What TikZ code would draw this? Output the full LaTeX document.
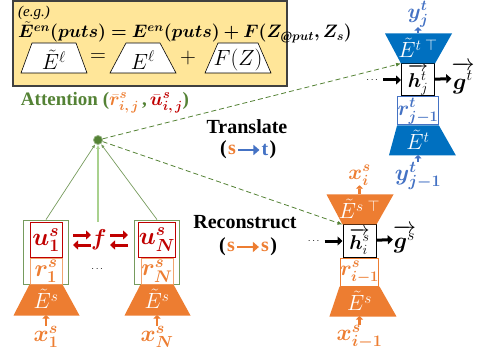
\RequirePackage{fix-cm}
\documentclass[tikz,border=0pt]{standalone}
\usepackage{fontspec}
\setmainfont{Liberation Serif}
\usepackage{amsmath,amssymb,bm}
\usetikzlibrary{
  arrows.meta,
  calc,
  positioning
}
\definecolor{sorange}{HTML}{ED7D31}
\definecolor{tblue}{HTML}{0070C0}
\definecolor{lblue}{HTML}{4472C4}
\definecolor{ured}{HTML}{C00000}
\definecolor{agreen}{HTML}{548235}
\definecolor{lgreen}{HTML}{A9D18E}
\definecolor{boxyellow}{HTML}{FFE699}
\newcommand{\egformula}{$\bm{\tilde{E}^{en}(puts) = E^{en}(puts) + F(Z_{\mathrm{@}put}, Z_s)}$}

\begin{document}
\begin{tikzpicture}[x=1pt,y=-1pt,>=Latex,
  lab/.style={inner sep=0pt,font=\fontsize{23}{27}\selectfont},
  bigtxt/.style={inner sep=0pt,font=\fontsize{20}{24}\selectfont\bfseries},
  ucell/.style={draw=ured,line width=1pt,fill=white,minimum width=32pt,minimum height=34pt,inner sep=0pt,text=ured,font=\fontsize{25}{28}\selectfont},
  rcell/.style={line width=1pt,fill=white,minimum width=32pt,inner sep=0pt,font=\fontsize{24}{26}\selectfont},
  hcell/.style={draw=black,line width=1pt,fill=white,minimum width=33pt,minimum height=32pt,inner sep=0pt,font=\fontsize{20}{24}\selectfont},
  grpbox/.style={draw=agreen!80,line width=0.8pt,minimum width=45pt,minimum height=64pt,inner sep=0pt},
  wtxt/.style={text=white,inner sep=0pt,font=\fontsize{22}{26}\selectfont},
  blkarrow/.style={line width=3pt,-{Triangle[length=5pt,width=9pt]}},
  uparrow/.style={line width=2.5pt,-{Triangle[length=3.5pt,width=7pt]}},
  redarrow/.style={ured,line width=3pt,-{Triangle[length=5pt,width=9pt]}},
  dirarrow/.style={line width=2.5pt,-{Triangle[length=6pt,width=10pt]}},
  attline/.style={agreen!80,line width=0.7pt,-{Latex[length=4pt,width=3pt]}},
  dasharrow/.style={agreen,dash pattern=on 5pt off 3pt,line width=0.8pt,-{Latex[length=5pt,width=4pt]}},
  trap/.style={draw=black,fill=white,line width=0.6pt}]
  \useasboundingbox (0,0) rectangle (478,352);

  % example box
  \draw[draw=black!75,fill=boxyellow,line width=1.5pt] (13,1) rectangle (287,86);
  \node[anchor=west,inner sep=0pt,font=\fontsize{15}{18}\selectfont\itshape] (eg) at (18,13) {(e.g.)};
  \node[anchor=west,inner sep=0pt,font=\fontsize{18}{21}\selectfont] (eqn) at (18,32) {\egformula};
  \foreach \tx/\tw/\nm/\txt in {54/22/tl/{$\tilde{E}^{\ell}$},143/17/tm/{$E^{\ell}$},238/20/tr/{$F(Z)$}}{
    \draw[trap] (\tx-\tw,43) -- (\tx+\tw,43) -- (\tx+33,73) -- (\tx-33,73) -- cycle;
    \node[font=\fontsize{22}{26}\selectfont,inner sep=0pt] (\nm) at (\tx,60) {\txt};
  }
  \node[font=\fontsize{22}{26}\selectfont,inner sep=0pt] (eq) at (98,58) {$=$};
  \node[font=\fontsize{22}{26}\selectfont,inner sep=0pt] (pl) at (188,58) {$+$};

  % attention
  \node[text=agreen,bigtxt,font=\fontsize{19}{23}\selectfont\bfseries] (attlbl) at (105,103) {Attention (\textcolor{sorange}{$\bm{\bar{r}^{s}_{i,\,j}}$}\,,\,\textcolor{ured}{$\bm{\bar{u}^{s}_{i,\,j}}$})};
  \node[circle,fill=agreen,draw=agreen!60,line width=0.8pt,minimum size=9pt,inner sep=0pt] (att) at (98,140) {};

  % source sentences
  \foreach \cx/\n in {46/1,157/N}{
    \node[grpbox] (grp\n) at (\cx,252) {};
    \node[ucell] (u\n) at (\cx,240) {$\bm{u^{s}_{\n}}$};
    \node[rcell,draw=sorange!70,text=sorange,minimum height=26pt,below=0pt of u\n] (r\n) {$\bm{r^{s}_{\n}}$};
    \fill[sorange] (r\n.south west) -- (r\n.south east) -- ++(17,31) -- ++(-66,0) -- cycle;
    \node[wtxt] (e\n) at (\cx,299) {$\tilde{E}^{s}$};
    \coordinate (bot\n) at (\cx,315);
    \node[lab,text=sorange] (x\n) at (\cx,337) {$\bm{x^{s}_{\n}}$};
    \draw[uparrow,sorange] (x\n) -- (bot\n);
    \draw[attline] (grp\n.north) -- (att);
  }
  \coordinate (mid) at (98,222);
  \draw[lgreen,line width=1.5pt,-{Latex[length=4pt,width=4pt]}] (mid) -- (att);
  \node[inner sep=0pt] (mdots) at (98,269) {$\cdots$};
  \foreach \ax in {73,110}{
    \draw[redarrow] (\ax,235) -- (\ax+18,235);
    \draw[redarrow] (\ax+18,245) -- (\ax,245);
  }
  \node[text=ured,lab] (f) at (99,240) {$\bm{f}$};

  % decoders
  \foreach \bx/\by/\fc/\lc/\v/\k/\w/\nm in {359.5/195/sorange/sorange/s/i/x/rec,418/34/tblue/lblue/t/j/y/tra}{
    \node[hcell] (h\nm) at (\bx,\by+46) {$\overrightarrow{\bm{h}^{\v}_{\k}}$};
    \fill[\fc] (h\nm.north west) -- (h\nm.north east) -- ++(17,-30) -- ++(-67,0) -- cycle;
    \node[wtxt] (et\nm) at (\bx,\by+14) {$\tilde{E}^{\v\;\top}$};
    \node[rcell,draw=\lc,text=\lc,minimum width=33pt,minimum height=28pt,font=\fontsize{21}{24}\selectfont,below=0pt of h\nm] (r\nm) {$\bm{r^{\v}_{\k-1}}$};
    \fill[\fc] (r\nm.south west) -- (r\nm.south east) -- ++(17,30) -- ++(-67,0) -- cycle;
    \node[wtxt] (eb\nm) at (\bx,\by+106) {$\tilde{E}^{\v}$};
    \coordinate (top\nm) at (\bx,\by-1);
    \coordinate (bot\nm) at (\bx,\by+121);
    \node[lab,text=\lc,font=\fontsize{21}{24}\selectfont] (out\nm) at (\bx,\by-20) {$\bm{\w^{\v}_{\k}}$};
    \node[lab,text=\lc] (in\nm) at (\bx,\by+142) {$\bm{\w^{\v}_{\k-1}}$};
    \draw[uparrow,\lc] (top\nm) -- (out\nm);
    \draw[uparrow,\lc] (in\nm) -- (bot\nm);
    \node (dots\nm) at (\bx-45,\by+46) {$\cdots$};
    \node[lab] (g\nm) at (\bx+45,\by+44) {$\overrightarrow{\bm{g}^{\v}}$};
    \draw[blkarrow] (dots\nm) -- (h\nm);
    \draw[blkarrow] (h\nm) -- (g\nm);
    \draw[dasharrow] (att) -- (h\nm.north west);
  }

  % task labels
  \node[bigtxt] (trlbl) at (247,127) {Translate};
  \node[bigtxt,text=sorange] (trs) at (232,150) {s};
  \node[bigtxt,text=lblue] (trt) at (265,150) {t};
  \node[bigtxt,left=1pt of trs] (tro) {(};
  \node[bigtxt,right=1pt of trt] (trc) {)};
  \draw[dirarrow,lblue,shorten <=2pt,shorten >=2pt] (trs) -- (trt);
  \node[bigtxt] (rclbl) at (245,222) {Reconstruct};
  \node[bigtxt,text=sorange] (rcs) at (231,247) {s};
  \node[bigtxt,text=sorange] (rct) at (265,247) {s};
  \node[bigtxt,left=1pt of rcs] (rco) {(};
  \node[bigtxt,right=1pt of rct] (rcc) {)};
  \draw[dirarrow,sorange,shorten <=2pt,shorten >=2pt] (rcs) -- (rct);
\end{tikzpicture}
\end{document}
